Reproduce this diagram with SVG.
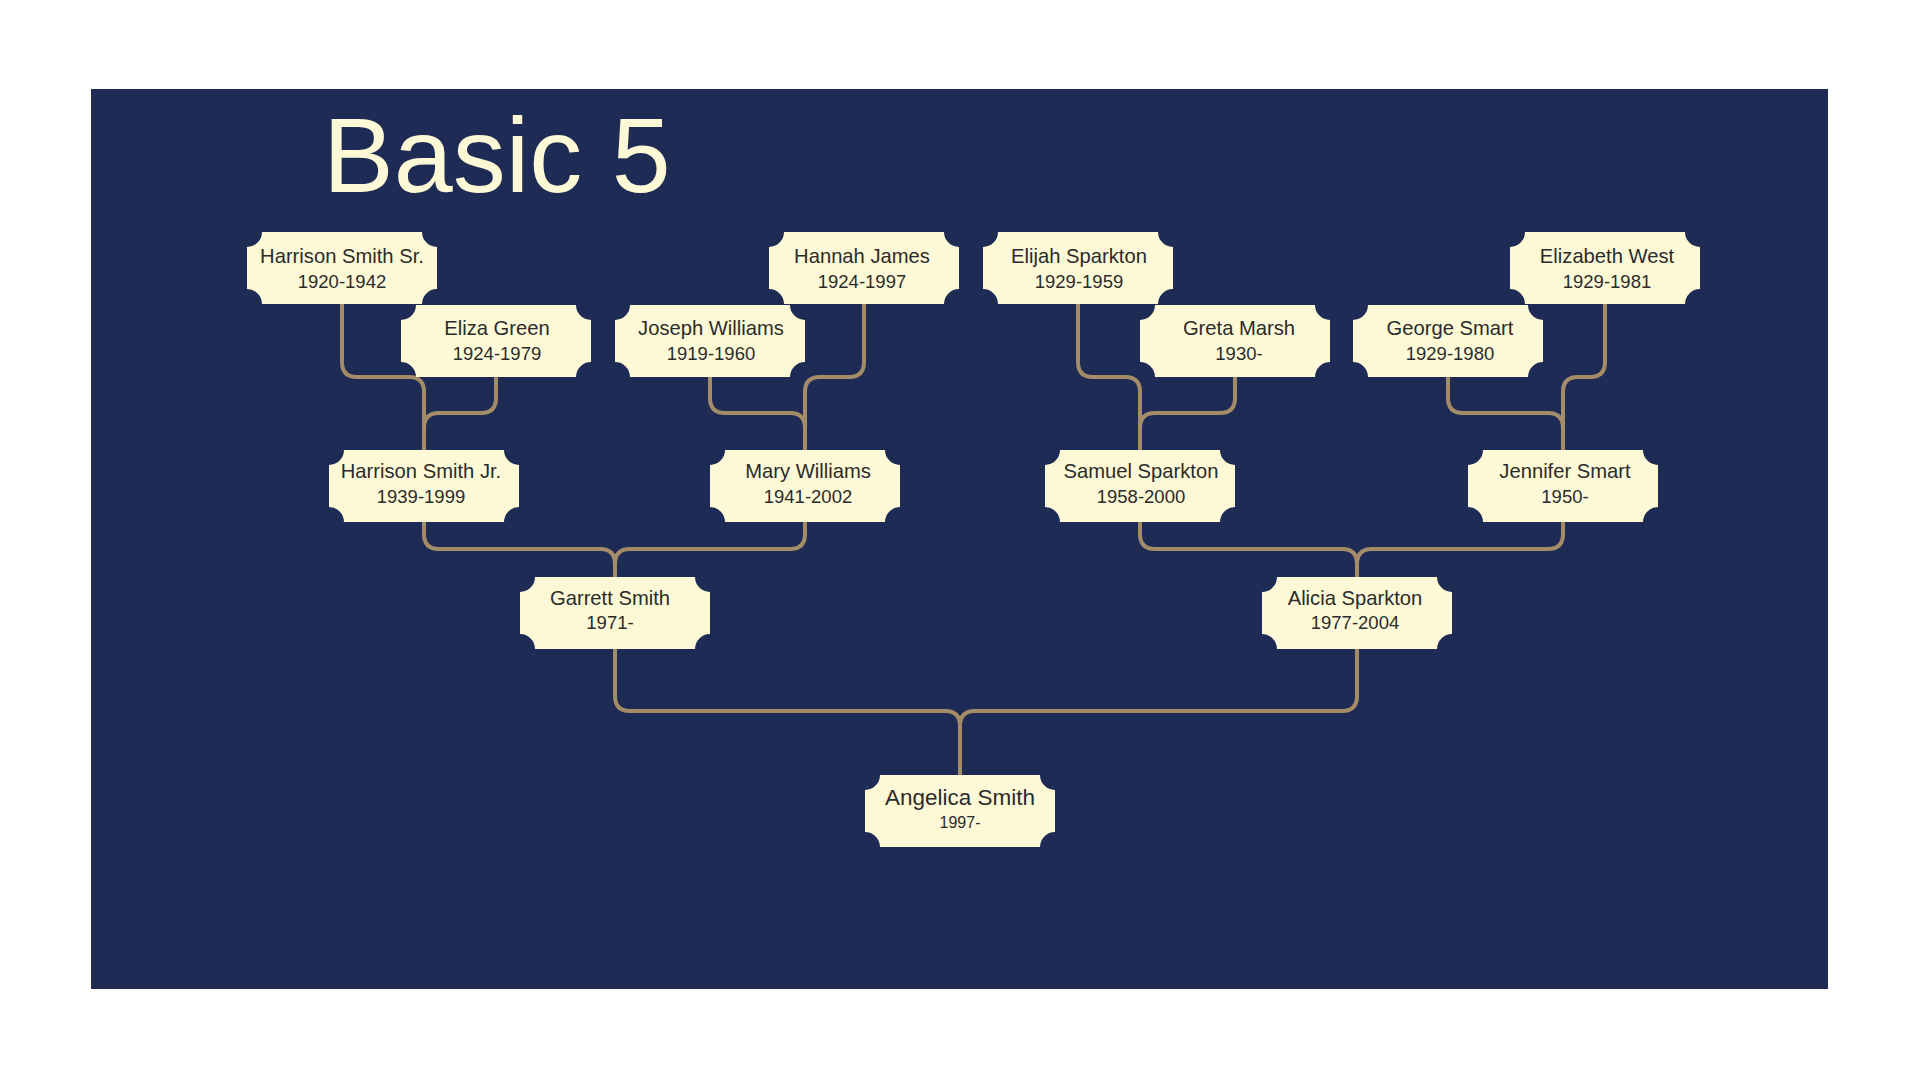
<svg xmlns="http://www.w3.org/2000/svg" xmlns:xlink="http://www.w3.org/1999/xlink" width="1920" height="1080" viewBox="0 0 1920 1080">
  <defs>
    <path id="tag" d="M15,0 H175 A15,15 0 0 0 190,15 V57 A15,15 0 0 0 175,72 H15 A15,15 0 0 0 0,57 V15 A15,15 0 0 0 15,0 Z"/>
    <style>
      .tag { fill: #fdf9d6; }
      .name { font-family: "Liberation Sans", Arial, sans-serif; font-size: 20.2px; fill: #2b2b2b; text-anchor: middle; }
      .date { font-family: "Liberation Sans", Arial, sans-serif; font-size: 18.5px; fill: #2b2b2b; text-anchor: middle; }
      .big { font-size: 22.5px; }
      .small { font-size: 16px; }
      .link { fill: none; stroke: #a58c68; stroke-width: 4; stroke-linecap: butt; stroke-linejoin: round; }
      .title { font-family: "Liberation Sans", Arial, sans-serif; font-size: 106px; fill: #fdf9d6; }
    </style>
  </defs>
  <rect x="0" y="0" width="1920" height="1080" fill="#ffffff"/>
  <rect x="91" y="89" width="1737" height="900" fill="#1e2b55"/>
  <text class="title" x="323" y="192">Basic 5</text>

  <g id="connectors">
    <!-- Harrison Smith Jr. parents -->
    <path class="link" d="M342,304 V362 Q342,377 357,377 H409 Q424,377 424,392 V450"/>
    <path class="link" d="M496,377 V398 Q496,413 481,413 H439 Q424,413 424,428 V450"/>
    <!-- Mary Williams parents -->
    <path class="link" d="M710,377 V398 Q710,413 725,413 H790 Q805,413 805,428 V450"/>
    <path class="link" d="M864,304 V362 Q864,377 849,377 H820 Q805,377 805,392 V450"/>
    <!-- Samuel Sparkton parents -->
    <path class="link" d="M1078,304 V362 Q1078,377 1093,377 H1125 Q1140,377 1140,392 V450"/>
    <path class="link" d="M1235,377 V398 Q1235,413 1220,413 H1155 Q1140,413 1140,428 V450"/>
    <!-- Jennifer Smart parents -->
    <path class="link" d="M1448,377 V398 Q1448,413 1463,413 H1548 Q1563,413 1563,428 V450"/>
    <path class="link" d="M1605,304 V362 Q1605,377 1590,377 H1578 Q1563,377 1563,392 V450"/>
    <!-- Garrett Smith parents -->
    <path class="link" d="M424,522 V534 Q424,549 439,549 H600 Q615,549 615,564 V577"/>
    <path class="link" d="M805,522 V534 Q805,549 790,549 H630 Q615,549 615,564 V577"/>
    <!-- Alicia Sparkton parents -->
    <path class="link" d="M1140,522 V534 Q1140,549 1155,549 H1342 Q1357,549 1357,564 V577"/>
    <path class="link" d="M1563,522 V534 Q1563,549 1548,549 H1372 Q1357,549 1357,564 V577"/>
    <!-- Angelica Smith parents -->
    <path class="link" d="M615,649 V696 Q615,711 630,711 H945 Q960,711 960,726 V775"/>
    <path class="link" d="M1357,649 V696 Q1357,711 1342,711 H975 Q960,711 960,726 V775"/>
  </g>

  <g id="n-harrison-sr">
    <use xlink:href="#tag" href="#tag" class="tag" x="247" y="232"/>
    <text class="name" x="342" y="263">Harrison Smith Sr.</text>
    <text class="date" x="342" y="288">1920-1942</text>
  </g>
  <g id="n-eliza-green">
    <use xlink:href="#tag" href="#tag" class="tag" x="401" y="305"/>
    <text class="name" x="497" y="335">Eliza Green</text>
    <text class="date" x="497" y="360">1924-1979</text>
  </g>
  <g id="n-joseph-williams">
    <use xlink:href="#tag" href="#tag" class="tag" x="615" y="305"/>
    <text class="name" x="711" y="335">Joseph Williams</text>
    <text class="date" x="711" y="360">1919-1960</text>
  </g>
  <g id="n-hannah-james">
    <use xlink:href="#tag" href="#tag" class="tag" x="769" y="232"/>
    <text class="name" x="862" y="263">Hannah James</text>
    <text class="date" x="862" y="288">1924-1997</text>
  </g>
  <g id="n-elijah-sparkton">
    <use xlink:href="#tag" href="#tag" class="tag" x="983" y="232"/>
    <text class="name" x="1079" y="263">Elijah Sparkton</text>
    <text class="date" x="1079" y="288">1929-1959</text>
  </g>
  <g id="n-greta-marsh">
    <use xlink:href="#tag" href="#tag" class="tag" x="1140" y="305"/>
    <text class="name" x="1239" y="335">Greta Marsh</text>
    <text class="date" x="1239" y="360">1930-</text>
  </g>
  <g id="n-george-smart">
    <use xlink:href="#tag" href="#tag" class="tag" x="1353" y="305"/>
    <text class="name" x="1450" y="335">George Smart</text>
    <text class="date" x="1450" y="360">1929-1980</text>
  </g>
  <g id="n-elizabeth-west">
    <use xlink:href="#tag" href="#tag" class="tag" x="1510" y="232"/>
    <text class="name" x="1607" y="263">Elizabeth West</text>
    <text class="date" x="1607" y="288">1929-1981</text>
  </g>
  <g id="n-harrison-jr">
    <use xlink:href="#tag" href="#tag" class="tag" x="329" y="450"/>
    <text class="name" x="421" y="478">Harrison Smith Jr.</text>
    <text class="date" x="421" y="503">1939-1999</text>
  </g>
  <g id="n-mary-williams">
    <use xlink:href="#tag" href="#tag" class="tag" x="710" y="450"/>
    <text class="name" x="808" y="478">Mary Williams</text>
    <text class="date" x="808" y="503">1941-2002</text>
  </g>
  <g id="n-samuel-sparkton">
    <use xlink:href="#tag" href="#tag" class="tag" x="1045" y="450"/>
    <text class="name" x="1141" y="478">Samuel Sparkton</text>
    <text class="date" x="1141" y="503">1958-2000</text>
  </g>
  <g id="n-jennifer-smart">
    <use xlink:href="#tag" href="#tag" class="tag" x="1468" y="450"/>
    <text class="name" x="1565" y="478">Jennifer Smart</text>
    <text class="date" x="1565" y="503">1950-</text>
  </g>
  <g id="n-garrett-smith">
    <use xlink:href="#tag" href="#tag" class="tag" x="520" y="577"/>
    <text class="name" x="610" y="605">Garrett Smith</text>
    <text class="date" x="610" y="629">1971-</text>
  </g>
  <g id="n-alicia-sparkton">
    <use xlink:href="#tag" href="#tag" class="tag" x="1262" y="577"/>
    <text class="name" x="1355" y="605">Alicia Sparkton</text>
    <text class="date" x="1355" y="629">1977-2004</text>
  </g>
  <g id="n-angelica-smith">
    <use xlink:href="#tag" href="#tag" class="tag" x="865" y="775"/>
    <text class="name big" x="960" y="805">Angelica Smith</text>
    <text class="date small" x="960" y="828">1997-</text>
  </g>
</svg>
